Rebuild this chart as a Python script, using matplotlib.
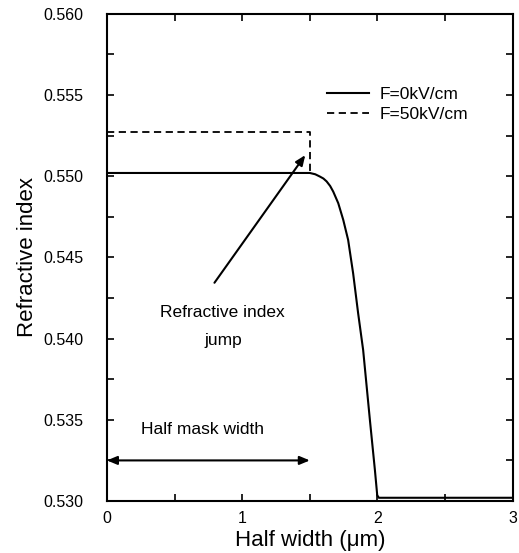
import matplotlib
matplotlib.use("Agg")
import matplotlib.pyplot as plt
from matplotlib.ticker import MultipleLocator

plt.rcParams['font.family'] = ['Liberation Sans', 'DejaVu Sans']

# values
x_f0 = [0.0, 1.5, 1.54, 1.574, 1.6, 1.624, 1.65, 1.673, 1.71, 1.747, 1.783, 1.82,
        1.857, 1.894, 1.914, 1.944, 1.981, 1.998, 2.01, 2.05, 3.0]
n_f0 = [0.5502, 0.5502, 0.55012, 0.54998, 0.54986, 0.54968, 0.5494, 0.54905, 0.54834,
        0.54731, 0.54608, 0.54402, 0.54156, 0.5393, 0.53757, 0.53498, 0.5319, 0.53036,
        0.5302, 0.5302, 0.5302]
x_f50 = [0.0, 1.5, 1.5]
n_f50 = [0.5527, 0.5527, 0.5502]
labels = ['F=0kV/cm', 'F=50kV/cm']

fig = plt.figure(figsize=(5.19, 5.53), dpi=100)
ax = fig.add_axes([0.206, 0.094, 0.782, 0.881])

ax.plot(x_f0, n_f0, color='black', lw=1.5, label=labels[0])
ax.plot(x_f50, n_f50, color='black', lw=1.3, ls=(0, (4, 2.5)), label=labels[1])

ax.set_xlim(0, 3)
ax.set_ylim(0.530, 0.560)
ax.xaxis.set_major_locator(MultipleLocator(1))
ax.xaxis.set_minor_locator(MultipleLocator(0.5))
ax.yaxis.set_major_locator(MultipleLocator(0.005))
ax.yaxis.set_minor_locator(MultipleLocator(0.0025))
ax.yaxis.set_major_formatter(plt.FormatStrFormatter('%.3f'))
ax.tick_params(which='both', direction='in', top=True, right=True, length=5, width=1.2,
               labelsize=11.5)
ax.tick_params(axis='y', pad=17)
ax.tick_params(axis='x', pad=7)
for s in ax.spines.values():
    s.set_linewidth(1.5)

ax.set_xlabel('Half width (μm)', fontsize=16, labelpad=3)
ax.set_ylabel('Refractive index', fontsize=16, labelpad=4)

leg = ax.legend(loc='upper left', bbox_to_anchor=(1.63, 0.5555),
                bbox_transform=ax.transData, frameon=False, fontsize=12.5,
                borderpad=0, borderaxespad=0, handlelength=2.4, handletextpad=0.6,
                labelspacing=0.3)

ax.annotate('', xy=(1.478, 0.55144), xytext=(0.783, 0.5433),
            arrowprops=dict(arrowstyle='-|>,head_length=0.6,head_width=0.25',
                            color='black', lw=1.5))
ax.text(0.857, 0.5416, 'Refractive index', ha='center', va='center', fontsize=12.5)
ax.text(0.857, 0.5399, 'jump', ha='center', va='center', fontsize=12.5)

ax.annotate('', xy=(1.5, 0.5325), xytext=(0.0, 0.5325),
            arrowprops=dict(arrowstyle='<|-|>,head_length=0.6,head_width=0.25',
                            color='black', lw=1.5, shrinkA=0, shrinkB=0))
ax.text(0.71, 0.5344, 'Half mask width', ha='center', va='center', fontsize=12.5)

fig.savefig('out.png', dpi=100)
